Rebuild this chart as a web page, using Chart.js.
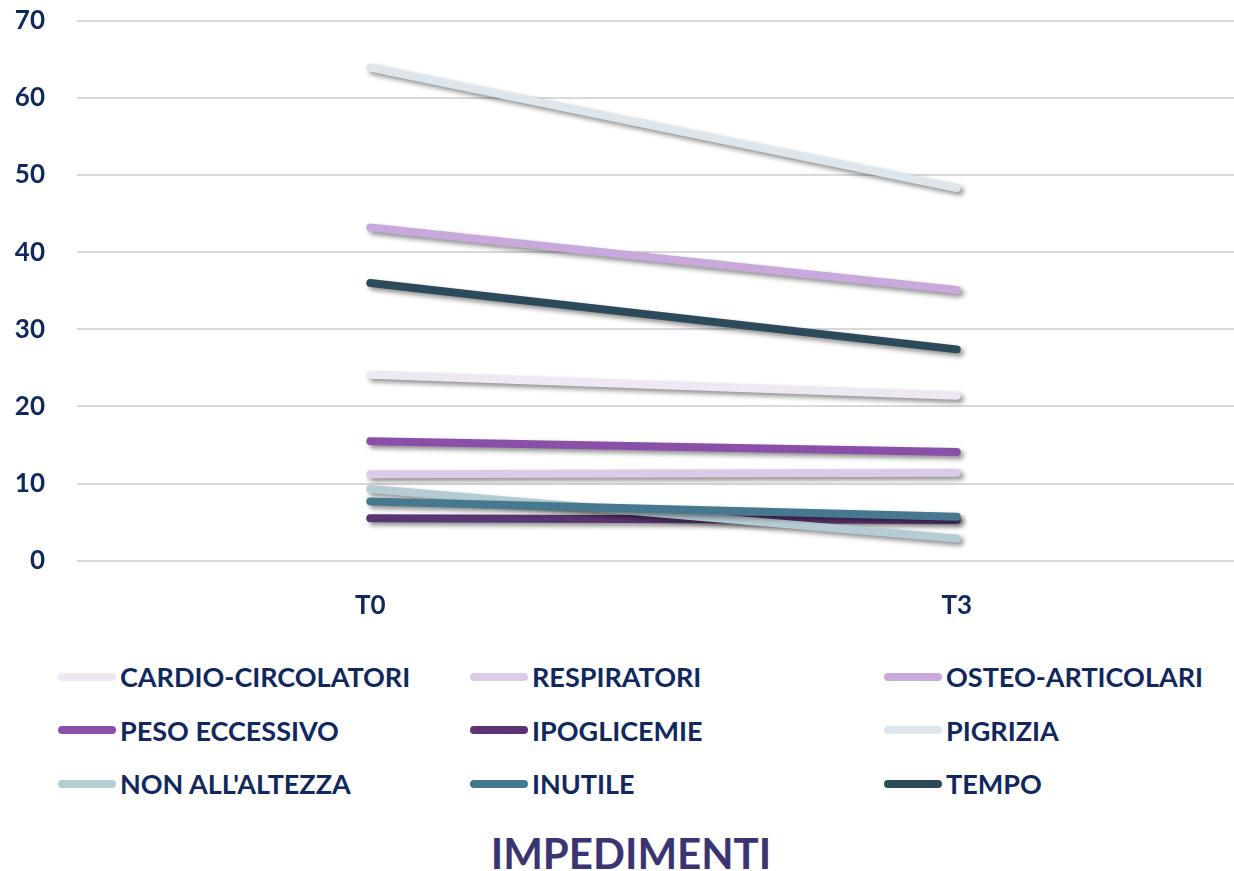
<!DOCTYPE html>
<html>
<head>
<meta charset="utf-8">
<script src="https://cdn.jsdelivr.net/npm/chart.js@4"></script>
<style>
  html, body { margin: 0; padding: 0; background: #fff; overflow: hidden; }
  body { width: 1234px; height: 871px; position: relative; font-family: Lato, "Open Sans", sans-serif; }
  #wrap { position: absolute; left: 0; top: -27px; width: 1250px; height: 663px; }
  #legenda {
    position: absolute; left: 58px; top: 650px;
    display: grid; grid-template-columns: 412px 414px 340px; grid-auto-rows: 53.5px;
  }
  .voce { display: flex; align-items: center; font-weight: 700; font-size: 27px; color: #10285e; white-space: nowrap; }
  .voce span.linea { display: inline-block; width: 58px; height: 8px; border-radius: 4px; margin-right: 4px; }
  #titolo {
    position: absolute; left: 0; width: 1262px; top: 832px; text-align: center;
    font-weight: 700; font-size: 42px; color: #3a3572; line-height: 1;
  }
</style>
</head>
<body>
<div id="wrap"><canvas id="impedimentiChart" width="1250" height="663"></canvas></div>
<div id="legenda"></div>
<div id="titolo">IMPEDIMENTI</div>
<script>
// Periodi di rilevazione
const periodi = ['T0', 'T3'];

// Nomi delle serie (impedimenti)
const nomi = ['CARDIO-CIRCOLATORI', 'RESPIRATORI', 'OSTEO-ARTICOLARI', 'PESO ECCESSIVO',
              'IPOGLICEMIE', 'PIGRIZIA', "NON ALL'ALTEZZA", 'INUTILE', 'TEMPO'];

// Valori per ogni serie (T0, T3)
const cardio = [24.1, 21.4];
const respiratori = [11.2, 11.4];
const osteo = [43.2, 35.1];
const peso = [15.5, 14.1];
const ipoglicemie = [5.5, 5.3];
const pigrizia = [63.9, 48.3];
const nonAllAltezza = [9.3, 2.9];
const inutile = [7.7, 5.7];
const tempo = [36.0, 27.4];

const colori = ['#efe7f3', '#dccbe6', '#c9a9dc', '#8a4fa8', '#5b3472',
                '#dde6ec', '#b5ccd5', '#46788f', '#2d4a5a'];

const yTicks = [0, 10, 20, 30, 40, 50, 60, 70];

const valori = [cardio, respiratori, osteo, peso, ipoglicemie, pigrizia, nonAllAltezza, inutile, tempo];

// ombra sotto le linee
const ombraPlugin = {
    id: 'ombra',
    beforeDatasetsDraw(chart) {
        const c = chart.ctx;
        c.save();
        c.shadowColor = 'rgba(0,0,0,0.45)';
        c.shadowBlur = 5;
        c.shadowOffsetX = 3;
        c.shadowOffsetY = 3;
    },
    afterDatasetsDraw(chart) {
        chart.ctx.restore();
    }
};

const ctx = document.getElementById('impedimentiChart').getContext('2d');

const chart = new Chart(ctx, {
    type: 'line',
    data: {
        labels: periodi,
        datasets: nomi.map((n, i) => ({
            label: n,
            data: valori[i],
            borderColor: colori[i],
            backgroundColor: colori[i],
            borderWidth: 8,
            borderCapStyle: 'round',
            pointRadius: 0,
            tension: 0,
            order: nomi.length - i // le ultime serie sopra
        }))
    },
    options: {
        responsive: false,
        animation: false,
        layout: { padding: { top: 10, right: 0, bottom: -6, left: 0 } },
        plugins: {
            legend: { display: false },
            tooltip: { enabled: false }
        },
        scales: {
            x: {
                offset: true,
                grid: { display: false },
                border: { display: false },
                ticks: {
                    color: '#10285e',
                    padding: 21,
                    font: { family: 'Lato', weight: 'bold', size: 26 }
                }
            },
            y: {
                min: 0,
                max: 70,
                afterFit(scale) { scale.width = 77; },
                afterBuildTicks(scale) { scale.ticks = yTicks.map(v => ({ value: v })); },
                grid: { color: '#d9d9d9', lineWidth: 2, drawTicks: false },
                border: { display: false },
                ticks: {
                    color: '#10285e',
                    padding: 32,
                    font: { family: 'Lato', weight: 'bold', size: 26 }
                }
            }
        }
    },
    plugins: [ombraPlugin]
});

// legenda a tre colonne
const leg = document.getElementById('legenda');
nomi.forEach((n, i) => {
    const d = document.createElement('div');
    d.className = 'voce';
    d.innerHTML = '<span class="linea" style="background:' + colori[i] + '"></span>';
    d.appendChild(document.createTextNode(n));
    leg.appendChild(d);
});
</script>
</body>
</html>
